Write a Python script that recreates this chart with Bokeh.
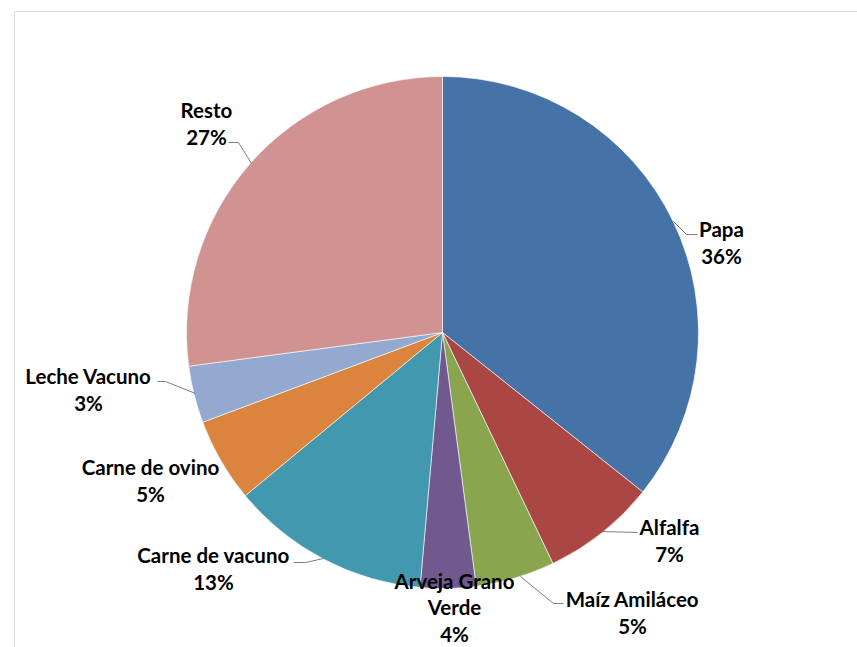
import math
from bokeh.plotting import figure
from bokeh.models import ColumnDataSource, Range1d
from bokeh.core.properties import value
from bokeh.embed import file_html
from bokeh.resources import INLINE

# ---- data ----
categories = ["Papa", "Alfalfa", "Maíz Amiláceo", "Arveja Grano Verde",
              "Carne de vacuno", "Carne de ovino", "Leche Vacuno", "Resto"]
shares = [35.7, 7.2, 5.0, 3.5, 12.6, 5.3, 3.6, 27.1]
pct_labels = ["36%", "7%", "5%", "4%", "13%", "5%", "3%", "27%"]
label_names = ["Papa", "Alfalfa", "Maíz Amiláceo", "Arveja Grano\nVerde",
               "Carne de vacuno", "Carne de ovino", "Leche Vacuno", "Resto"]
colors = ["#4572A7", "#AA4643", "#89A54E", "#71588F",
          "#4198AF", "#DB843D", "#93A9CF", "#D19392"]

# ---- layout (pixel units) ----
W, H = 857, 647
CX, CY, R = 442, 315, 256
label_xy = [(721, 405), (669, 107), (632, 35), (454, 40),
            (213, 79), (150, 167), (88, 258), (206, 524)]
leaders = [
    [(673, 426), (686, 413), (697, 413)],
    [(602, 116), (637, 115)],
    [(520, 71), (553, 44), (563, 44)],
    None,
    [(293, 85), (305, 85), (323, 89)],
    None,
    [(157, 266), (165, 266), (195, 254)],
    [(228, 505), (238, 505), (251, 484)],
]

total = sum(shares)
starts, ends = [], []
cum = 0.0
for s in shares:
    starts.append(math.pi / 2 - 2 * math.pi * cum / total)
    cum += s
    ends.append(math.pi / 2 - 2 * math.pi * cum / total)

src = ColumnDataSource(dict(cat=categories, val=shares, start=starts, end=ends,
                            color=colors))

p = figure(width=W, height=H, output_backend="svg", toolbar_location=None,
           x_range=Range1d(0, W), y_range=Range1d(0, H), min_border=0)
p.axis.visible = False
p.grid.visible = False
p.outline_line_color = None
p.background_fill_color = "white"
p.border_fill_color = "white"

# chart-area frame (top and left edges visible)
p.line(x=[14, W], y=[636, 636], line_color="#dcdcdc", line_width=1)
p.line(x=[14, 14], y=[636, 0], line_color="#dcdcdc", line_width=1)

p.wedge(x=CX, y=CY, radius=R, start_angle="start", end_angle="end",
        direction="clock", fill_color="color", line_color="white",
        line_width=0.6, source=src)

xs, ys = [], []
for seg in leaders:
    if seg:
        xs.append([pt[0] for pt in seg])
        ys.append([pt[1] for pt in seg])
p.multi_line(xs=xs, ys=ys, line_color="#7f7f7f", line_width=1)

texts = [f"{n}\n{pct}" for n, pct in zip(label_names, pct_labels)]
lsrc = ColumnDataSource(dict(x=[a for a, b in label_xy], y=[b for a, b in label_xy],
                             t=texts))
p.text(x="x", y="y", text="t", source=lsrc, text_align="center",
       text_baseline="middle", text_font=value("Lato"), text_font_style="bold",
       text_font_size="20.5px", text_line_height=1.1, text_color="black")

open("out.html", "w").write(file_html(p, INLINE))
